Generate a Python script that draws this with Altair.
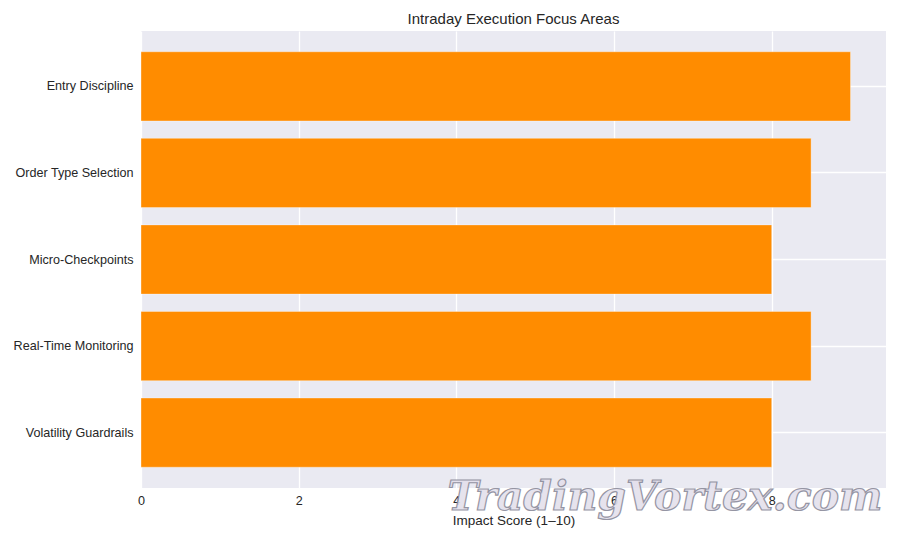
import altair as alt
import pandas as pd

categories = ["Entry Discipline", "Order Type Selection", "Micro-Checkpoints",
              "Real-Time Monitoring", "Volatility Guardrails"]
scores = [9.0, 8.5, 8.0, 8.5, 8.0]
x_ticks = [0, 2, 4, 6, 8]

df = pd.DataFrame({"area": categories, "score": scores})

FONT = "Liberation Sans"

base = alt.Chart(df)

bars = base.mark_bar(color="#FF8C00", stroke="#FFFFFF", strokeOpacity=0.35, strokeWidth=1).encode(
    x=alt.X("score:Q",
            scale=alt.Scale(domain=[0, 9.45], nice=False, zero=True),
            axis=alt.Axis(values=x_ticks, title="Impact Score (1–10)", format="d",
                          grid=True, gridColor="white", gridWidth=1.3,
                          domain=False, ticks=False, labelPadding=6, labelFlush=False,
                          labelFontSize=12.6, labelColor="#262626", labelFont=FONT,
                          titleFontSize=13.5, titleColor="#262626", titleFont=FONT,
                          titleFontWeight="normal", titlePadding=7)),
    y=alt.Y("area:N", sort=None,
            scale=alt.Scale(paddingInner=0.2, paddingOuter=0.24),
            axis=alt.Axis(title=None, grid=True, gridColor="white", gridWidth=1.3,
                          domain=False, ticks=False, labelPadding=8,
                          labelFontSize=12.6, labelColor="#262626", labelFont=FONT,
                          bandPosition=0.5, labelLimit=300)),
)

watermark = base.mark_text(
    text="TradingVortex.com", font="DejaVu Serif", fontSize=41, fontStyle="italic",
    fontWeight="bold", fill="#E4E0EC", stroke="#8A8A9A", strokeWidth=1.2,
    opacity=0.9, align="center", baseline="middle"
).encode(x=alt.value(524), y=alt.value(467)).transform_filter(
    alt.datum.area == categories[0])

chart = alt.layer(bars, watermark).properties(
    width=745, height=457,
    title=alt.TitleParams("Intraday Execution Focus Areas", fontSize=15,
                          font=FONT, fontWeight="normal", color="#262626",
                          anchor="middle", offset=4),
    autosize=alt.AutoSizeParams(type="none"),
    padding={"left": 133, "top": 23, "right": 6, "bottom": 44},
    background="white",
).configure_view(fill="#EAEAF2", stroke=None)

chart.save("out.html", embed_options={"renderer": "svg", "actions": False})
